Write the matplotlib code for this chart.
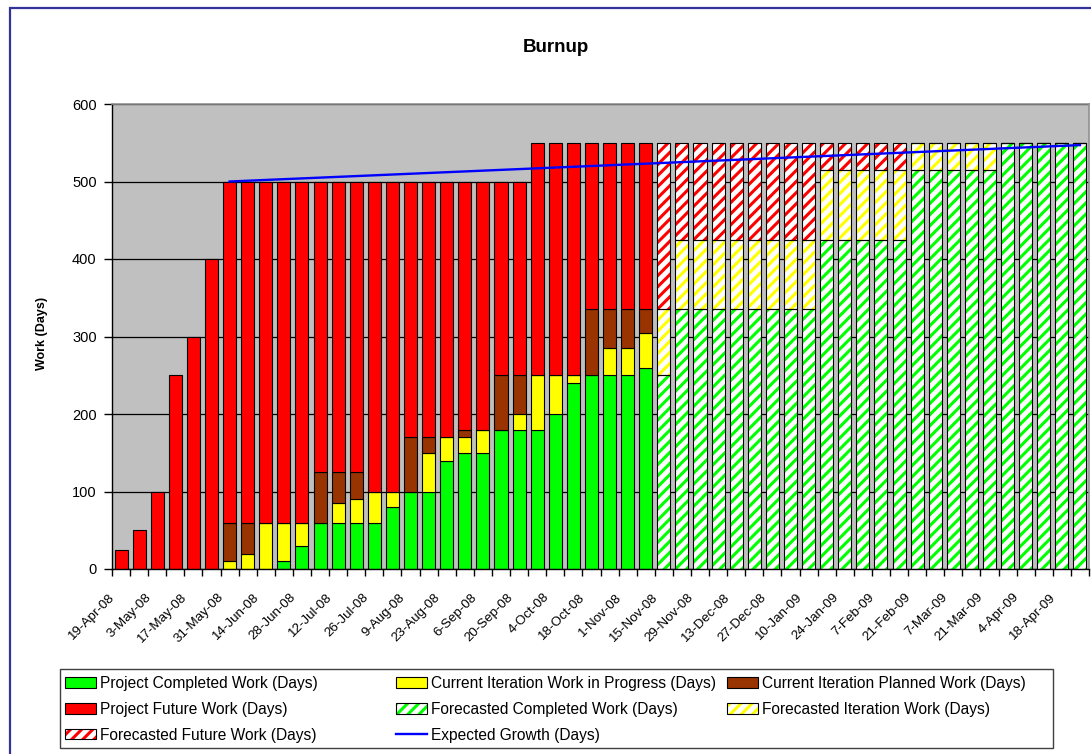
import matplotlib
matplotlib.use('Agg')
import matplotlib.pyplot as plt
from matplotlib.patches import Rectangle, Patch
from matplotlib.legend_handler import HandlerTuple
from matplotlib.transforms import ScaledTranslation
import numpy as np

plt.rcParams['font.family'] = ['Liberation Sans', 'DejaVu Sans']
plt.rcParams['hatch.linewidth'] = 2.2

# ---------------- data ----------------
tick_labels = ['19-Apr-08', '3-May-08', '17-May-08', '31-May-08', '14-Jun-08', '28-Jun-08',
               '12-Jul-08', '26-Jul-08', '9-Aug-08', '23-Aug-08', '6-Sep-08', '20-Sep-08',
               '4-Oct-08', '18-Oct-08', '1-Nov-08', '15-Nov-08', '29-Nov-08', '13-Dec-08',
               '27-Dec-08', '10-Jan-09', '24-Jan-09', '7-Feb-09', '21-Feb-09', '7-Mar-09',
               '21-Mar-09', '4-Apr-09', '18-Apr-09']
n_weeks = 54

completed = [0, 0, 0, 0, 0, 0, 0, 0, 0, 10, 30, 60, 60, 60, 60, 80, 100, 100, 140, 150,
             150, 180, 180, 180, 200, 240, 250, 250, 250, 260,
             0, 0, 0, 0, 0, 0, 0, 0, 0, 0, 0, 0, 0, 0, 0, 0, 0, 0, 0, 0, 0, 0, 0, 0]
in_progress = [0, 0, 0, 0, 0, 0, 10, 20, 60, 50, 30, 0, 25, 30, 40, 20, 0, 50, 30, 20,
               30, 0, 20, 70, 50, 10, 0, 35, 35, 45,
               0, 0, 0, 0, 0, 0, 0, 0, 0, 0, 0, 0, 0, 0, 0, 0, 0, 0, 0, 0, 0, 0, 0, 0]
planned = [0, 0, 0, 0, 0, 0, 50, 40, 0, 0, 0, 65, 40, 35, 0, 0, 70, 20, 0, 10,
           0, 70, 50, 0, 0, 0, 85, 50, 50, 30,
           0, 0, 0, 0, 0, 0, 0, 0, 0, 0, 0, 0, 0, 0, 0, 0, 0, 0, 0, 0, 0, 0, 0, 0]
future = [25, 50, 100, 250, 300, 400, 440, 440, 440, 440, 440, 375, 375, 375, 400, 400,
          330, 330, 330, 320, 320, 250, 250, 300, 300, 300, 215, 215, 215, 215,
          0, 0, 0, 0, 0, 0, 0, 0, 0, 0, 0, 0, 0, 0, 0, 0, 0, 0, 0, 0, 0, 0, 0, 0]
fc_completed = [0] * 30 + [250, 335, 335, 335, 335, 335, 335, 335, 335,
                           425, 425, 425, 425, 425, 515, 515, 515, 515, 515,
                           550, 550, 550, 550, 550]
fc_iteration = [0] * 30 + [85, 90, 90, 90, 90, 90, 90, 90, 90,
                           90, 90, 90, 90, 90, 35, 35, 35, 35, 35,
                           0, 0, 0, 0, 0]
fc_future = [0] * 30 + [215, 125, 125, 125, 125, 125, 125, 125, 125,
                        35, 35, 35, 35, 35, 0, 0, 0, 0, 0,
                        0, 0, 0, 0, 0]
expected_growth = [np.nan] * 6 + [500, 501, 502, 503, 504, 505, 506, 507, 508, 509, 510,
                                  511, 512, 513, 514, 515, 516, 517, 518, 519, 520, 521,
                                  522, 523, 524, 525, 526, 527, 528, 529, 530, 531, 532,
                                  533, 534, 535, 536, 537, 538, 539, 540, 541, 542, 543,
                                  544, 545, 546, 547]

series_names = ['Project Completed Work (Days)', 'Current Iteration Work in Progress (Days)',
                'Current Iteration Planned Work (Days)', 'Project Future Work (Days)',
                'Forecasted Completed Work (Days)', 'Forecasted Iteration Work (Days)',
                'Forecasted Future Work (Days)', 'Expected Growth (Days)']

# ---------------- style ----------------
GREEN, YELLOW, BROWN, RED = '#00FF00', '#FFFF00', '#993300', '#FF0000'
BLUE = '#0000FF'
W, H = 1091, 754


def fx(p):
    return p / W


def fy(p):
    return 1 - p / H


fig = plt.figure(figsize=(W / 100, H / 100), dpi=100)
ax = fig.add_axes([fx(112), fy(569), (1089 - 112) / W, (569 - 104) / H])
ax.set_facecolor('#C0C0C0')

x = np.arange(n_weeks)
bw = 0.72
elw = 0.8

handles = {}
bottom = np.zeros(n_weeks)
for vals, col, name in [(completed, GREEN, series_names[0]), (in_progress, YELLOW, series_names[1]),
                        (planned, BROWN, series_names[2]), (future, RED, series_names[3])]:
    v = np.array(vals, dtype=float)
    mask = x < 30
    b = ax.bar(x[mask], v[mask], bw, bottom=bottom[mask], color=col, edgecolor='black',
               linewidth=elw, zorder=2)
    handles[name] = b
    bottom += v

bottom = np.zeros(n_weeks)
for vals, col, name in [(fc_completed, GREEN, series_names[4]), (fc_iteration, YELLOW, series_names[5]),
                        (fc_future, RED, series_names[6])]:
    v = np.array(vals, dtype=float)
    mask = x >= 30
    ax.bar(x[mask], v[mask], bw, bottom=bottom[mask], color='white', edgecolor=col,
           hatch='///', linewidth=0, zorder=2)
    ax.bar(x[mask], v[mask], bw, bottom=bottom[mask], facecolor='none', edgecolor='black',
           linewidth=elw, zorder=2.1)
    handles[name] = (Patch(facecolor='white', edgecolor=col, hatch='///', linewidth=0),
                     Patch(facecolor='none', edgecolor='black', linewidth=elw))
    bottom += v

line, = ax.plot(x, expected_growth, color=BLUE, lw=1.7, zorder=3)
handles[series_names[7]] = line

ax.set_xlim(-0.5, n_weeks - 0.5)
ax.set_ylim(0, 600)
ax.set_yticks(np.arange(0, 601, 100))
ax.yaxis.grid(True, color='black', lw=0.9)
ax.set_axisbelow(True)
ax.tick_params(axis='y', direction='out', length=6, width=1, pad=5, labelsize=10.5)

ax.set_xticks(x[::2])
ax.set_xticklabels(tick_labels)
ax.set_xticks(np.arange(-0.5, n_weeks, 1), minor=True)
ax.tick_params(axis='x', which='major', length=0, pad=19, labelsize=9.6)
ax.tick_params(axis='x', which='minor', length=5, width=1, direction='out')
shift = ScaledTranslation(-8 / 100, 0, fig.dpi_scale_trans)
for lbl in ax.get_xticklabels():
    lbl.set_rotation(45)
    lbl.set_ha('right')
    lbl.set_va('center')
    lbl.set_rotation_mode('anchor')
    lbl.set_transform(lbl.get_transform() + shift)

for s in ['top', 'right']:
    ax.spines[s].set_color('#909090')
    ax.spines[s].set_linewidth(1.2)
for s in ['left', 'bottom']:
    ax.spines[s].set_color('black')
    ax.spines[s].set_linewidth(1)

fig.text(fx(556), fy(47), 'Burnup', ha='center', va='center', fontsize=13.5, fontweight='bold')
fig.text(fx(42), fy(333), 'Work (Days)', ha='center', va='center', rotation=90,
         fontsize=9, fontweight='bold')

# outer border
fig.add_artist(Rectangle((fx(10), -0.1), 1.2, fy(8) + 0.1, transform=fig.transFigure,
                         facecolor='none', edgecolor='#333399', linewidth=1.6, zorder=0))

# legend frame
fig.add_artist(Rectangle((fx(60), fy(748)), (1053 - 60) / W, (748 - 669) / H,
                         transform=fig.transFigure, facecolor='white', edgecolor='#404040',
                         linewidth=1.0, zorder=1))

cols = [[0, 3, 6], [1, 4, 7], [2, 5]]
col_x = [65, 396, 727]
for cx, idxs in zip(col_x, cols):
    hs = [handles[series_names[i]] for i in idxs]
    ls = [series_names[i] for i in idxs]
    leg = fig.legend(hs, ls, loc='upper left', bbox_to_anchor=(fx(cx), fy(676)),
                     frameon=False, borderpad=0, borderaxespad=0, fontsize=11.2,
                     handlelength=2.02, handleheight=0.64, handletextpad=0.25,
                     labelspacing=0.7, handler_map={tuple: HandlerTuple(ndivide=1)})
    leg.set_zorder(2)

fig.savefig('out.png', dpi=100)
